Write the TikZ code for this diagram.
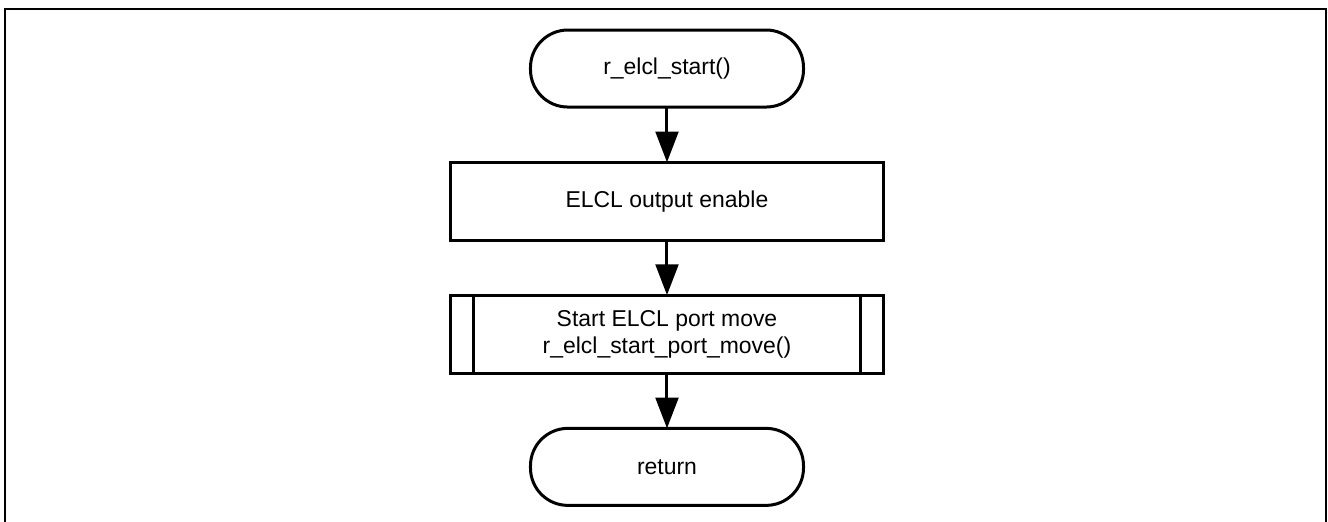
\documentclass[tikz,border=0pt]{standalone}
\usepackage{fontspec}
\setmainfont{Liberation Sans}
\usepackage{tikz}
\usetikzlibrary{shapes,arrows.meta,positioning,calc}
\tikzstyle{startstop} = [rectangle, rounded corners=28pt, minimum width=204.75pt, minimum height=57.75pt, text centered, draw=black, line width=2.25pt, outer sep=0pt]
\tikzstyle{process} = [rectangle, minimum width=324pt, minimum height=58.5pt, text centered, draw=black, line width=2.25pt, outer sep=0pt]
\tikzstyle{subproc} = [process, align=center]
\tikzstyle{arrow} = [line width=2.25pt,-{Triangle[length=23pt,width=17pt]}]

\begin{document}
\begin{tikzpicture}[node distance=3.5cm, auto, font=\fontsize{17.2}{20}\selectfont]
    \useasboundingbox (-500.25pt,51.4pt) rectangle (495.75pt,-339.4pt);
    % Frame
    \draw[line width=1.5pt] (-496.5pt,44.6pt) rectangle (494.25pt,-341pt);

    % Nodes
    \node (start) [startstop] {r\_elcl\_start()};
    \node (enable) [process, below of=start] {ELCL output enable};
    \node (portmove) [subproc, below of=enable] {Start ELCL port move\\r\_elcl\_start\_port\_move()};
    \node (return) [startstop, below of=portmove] {return};

    % Side bars of the sub-routine box
    \draw[line width=2.25pt] ([xshift=17.25pt]portmove.north west) -- ([xshift=17.25pt]portmove.south west);
    \draw[line width=2.25pt] ([xshift=-17.25pt]portmove.north east) -- ([xshift=-17.25pt]portmove.south east);

    % Arrows
    \draw [arrow] (start) -- (enable);
    \draw [arrow] (enable) -- (portmove);
    \draw [arrow] (portmove) -- (return);

\end{tikzpicture}
\end{document}
